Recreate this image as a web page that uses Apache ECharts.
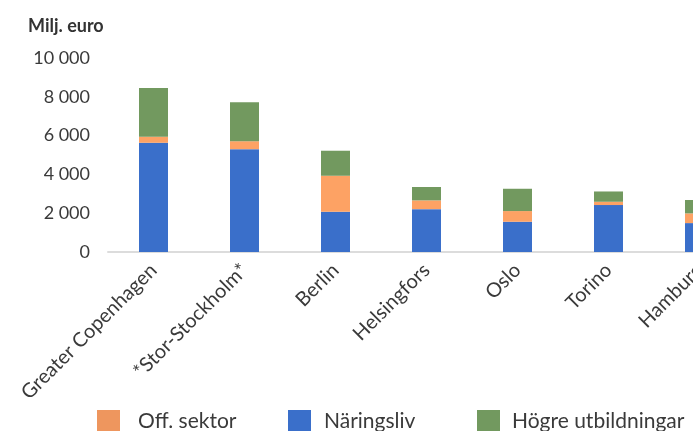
<!DOCTYPE html>
<html>
<head>
<meta charset="utf-8">
<script src="https://cdn.jsdelivr.net/npm/echarts@6/dist/echarts.min.js"></script>
<style>
  html, body { margin: 0; padding: 0; background: #fff; }
  #chart { width: 693px; height: 431px; }
</style>
</head>
<body>
<div id="chart"></div>
<script>
// kategorier och värden (milj. euro)
const cities = ['Greater Copenhagen', '*Stor-Stockholm*', 'Berlin', 'Helsingfors', 'Oslo', 'Torino', 'Hamburg']
const naringsliv = [5630, 5300, 2080, 2210, 1560, 2420, 1490]
const offSektor = [310, 410, 1850, 450, 550, 170, 500]
const hogreUtb = [2510, 2010, 1290, 690, 1150, 530, 690]
const yTicks = [0, 2000, 4000, 6000, 8000, 10000]

const font = 'Lato, "Open Sans", sans-serif'
const colBlue = '#3a6fca'
const colOrange = '#fda264'
const colGreen = '#72995f'

const fmt = v => String(v).replace(/\B(?=(\d{3})+(?!\d))/g, ' ')

const chart = echarts.init(document.getElementById('chart'))

const legendBase = (name, left, pad, color) => ({
  left: left,
  top: 405,
  itemWidth: 23,
  itemHeight: 22,
  icon: 'rect',
  selectedMode: false,
  data: [{ name: name, itemStyle: { color: color } }],
  textStyle: { fontFamily: font, fontSize: 21, color: '#3a3a3a', padding: [0, 0, 0, pad] }
})

chart.setOption({
  animation: false,
  title: {
    text: 'Milj. euro',
    left: 23,
    top: 12,
    textStyle: { fontFamily: font, fontSize: 18, fontWeight: 'bold', color: '#333' }
  },
  legend: [
    legendBase('Off. sektor', 92, 13, '#ee965e'),
    legendBase('Näringsliv', 283, 8, colBlue),
    legendBase('Högre utbildningar', 472, 7, colGreen)
  ],
  // diagrammet fortsätter utanför bildens högerkant
  grid: { left: 108, top: 58, width: 91 * cities.length, height: 194, outerBoundsMode: 'none' },
  xAxis: {
    type: 'category',
    data: cities,
    axisTick: { show: false },
    axisLine: { lineStyle: { color: '#dcdcdc', width: 2 } },
    axisLabel: {
      rotate: 45,
      margin: 15,
      interval: 0,
      fontFamily: font,
      fontSize: 20,
      color: '#3a3a3a'
    }
  },
  yAxis: {
    type: 'value',
    min: yTicks[0],
    max: yTicks[yTicks.length - 1],
    interval: 2000,
    splitLine: { show: false },
    axisLine: { show: false },
    axisTick: { show: false },
    axisLabel: {
      margin: 18,
      fontFamily: font,
      fontSize: 18,
      color: '#3a3a3a',
      formatter: fmt
    }
  },
  series: [
    { name: 'Näringsliv', type: 'bar', stack: 'tot', barWidth: 29, data: naringsliv, itemStyle: { color: colBlue } },
    { name: 'Off. sektor', type: 'bar', stack: 'tot', data: offSektor, itemStyle: { color: colOrange } },
    { name: 'Högre utbildningar', type: 'bar', stack: 'tot', data: hogreUtb, itemStyle: { color: colGreen } }
  ]
})
</script>
</body>
</html>
